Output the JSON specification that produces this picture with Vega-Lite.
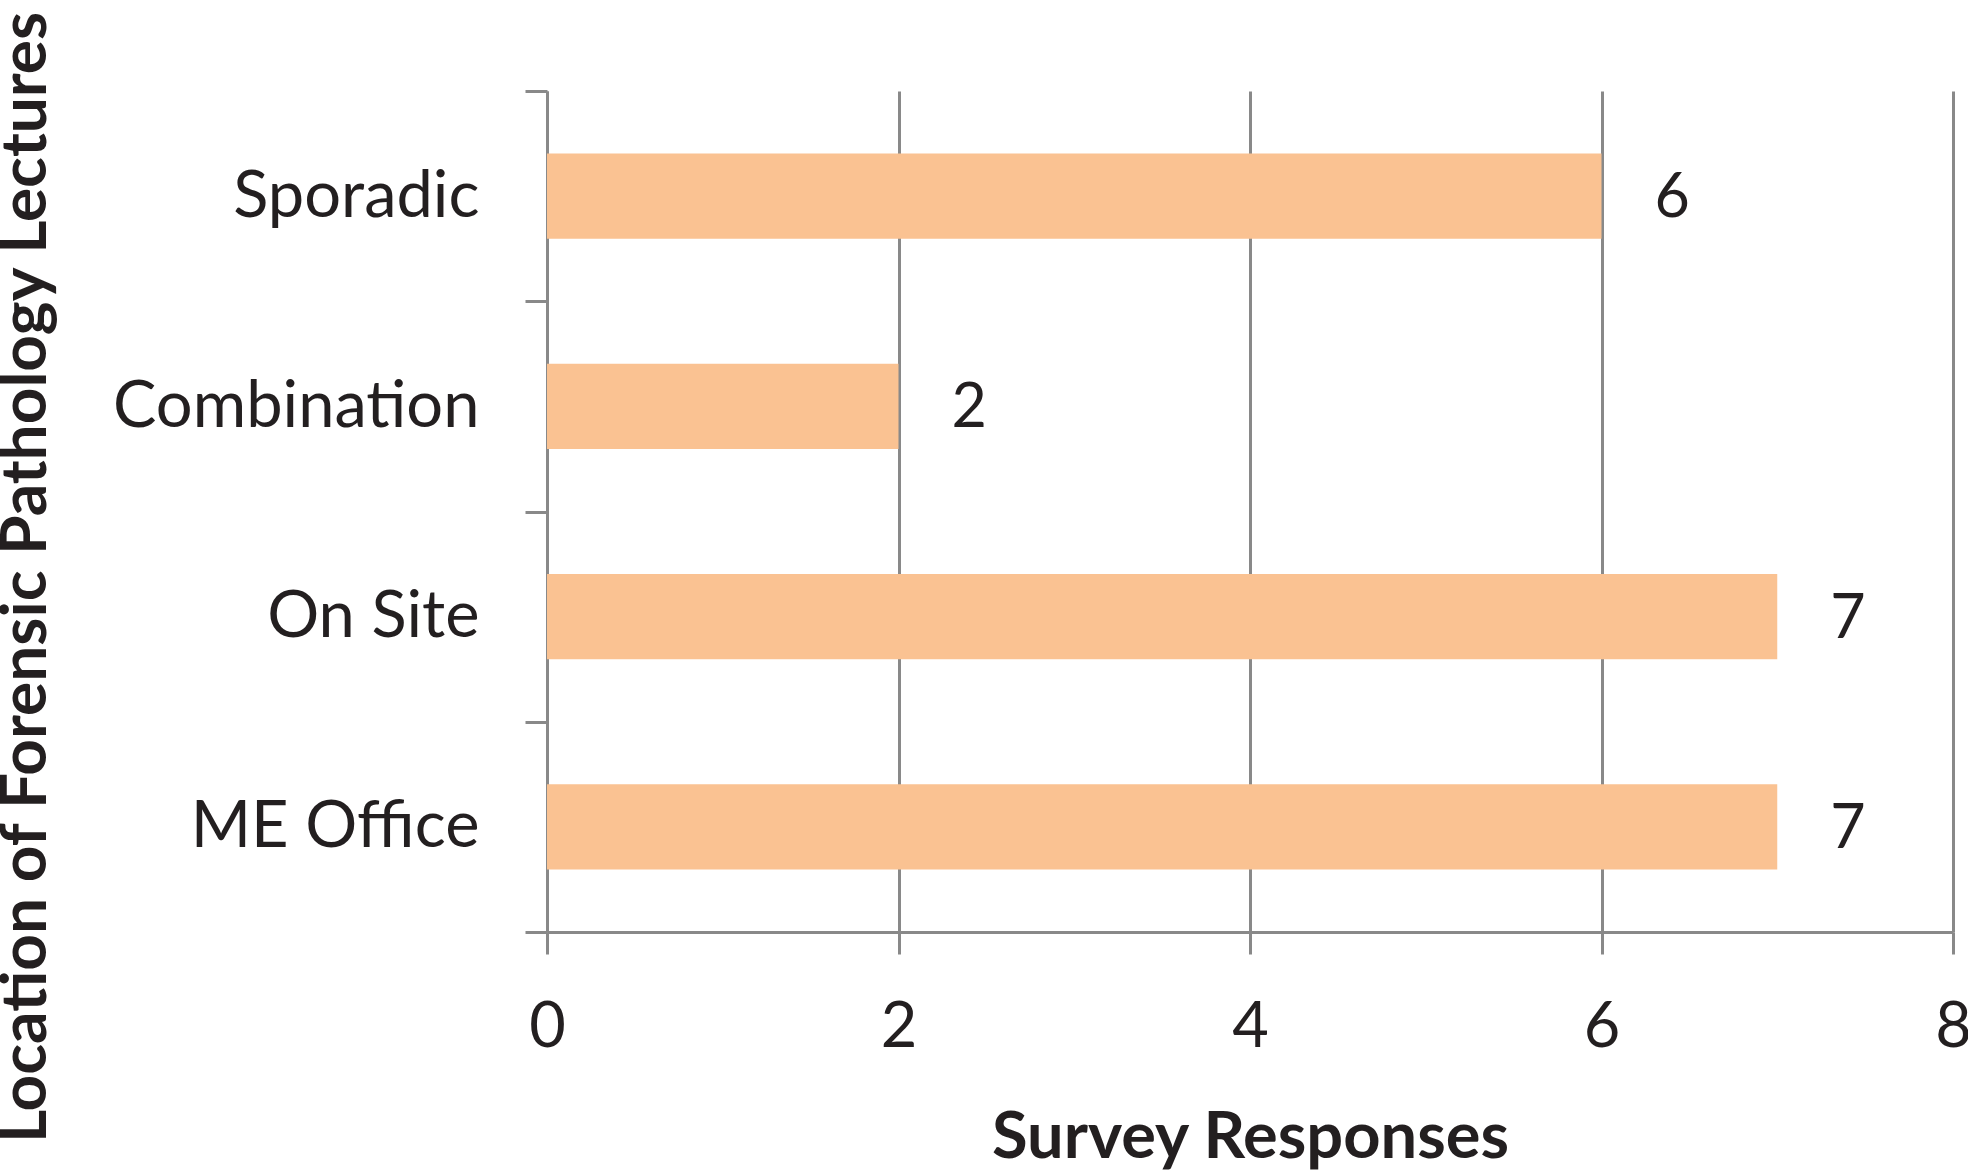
{
  "$schema": "https://vega.github.io/schema/vega-lite/v6.json",
  "width": 1406,
  "height": 841,
  "autosize": {"type": "none"},
  "padding": {"left": 547, "top": 91, "right": 15, "bottom": 239},
  "background": "white",
  "config": {"view": {"stroke": null}},
  "data": {
    "values": [
      {"location": "Sporadic", "responses": 6},
      {"location": "Combination", "responses": 2},
      {"location": "On Site", "responses": 7},
      {"location": "ME Office", "responses": 7}
    ]
  },
  "encoding": {
    "y": {
      "field": "location",
      "type": "nominal",
      "sort": ["Sporadic", "Combination", "On Site", "ME Office"],
      "scale": {"paddingInner": 0, "paddingOuter": 0},
      "axis": {
        "title": "Location of Forensic Pathology Lectures",
        "titleFont": "Lato",
        "titleFontWeight": "bold",
        "titleFontSize": 64,
        "titleColor": "#231F20",
        "titleAngle": 270,
        "titleX": -502,
        "titleY": 486,
        "titleAlign": "center",
        "titleBaseline": "alphabetic",
        "titleLimit": 0,
        "tickBand": "extent",
        "tickSize": 22,
        "tickWidth": 3,
        "tickColor": "#898989",
        "domainColor": "#898989",
        "domainWidth": 3,
        "labelFont": "Lato",
        "labelFontSize": 65,
        "labelColor": "#231F20",
        "labelPadding": 46,
        "labelLimit": 0,
        "grid": false
      }
    },
    "x": {
      "field": "responses",
      "type": "quantitative",
      "scale": {"domain": [0, 8], "nice": false},
      "axis": {
        "values": [0, 2, 4, 6, 8],
        "title": "Survey Responses",
        "titleFont": "Lato",
        "titleFontWeight": "bold",
        "titleFontSize": 65,
        "titleColor": "#231F20",
        "titleY": 225,
        "titleBaseline": "alphabetic",
        "tickSize": 22,
        "tickWidth": 3,
        "tickColor": "#898989",
        "domainColor": "#898989",
        "domainWidth": 3,
        "gridColor": "#898989",
        "gridWidth": 3,
        "gridOpacity": 1,
        "labelFont": "Lato",
        "labelFontSize": 63,
        "labelColor": "#231F20",
        "labelPadding": 42,
        "labelFlush": false,
        "labelOverlap": false
      }
    }
  },
  "layer": [
    {"mark": {"type": "bar", "color": "#FAC292", "height": {"band": 0.405}}},
    {
      "mark": {"type": "text", "align": "left", "baseline": "middle", "dx": 53, "dy": 3, "font": "Lato", "fontSize": 61, "color": "#231F20"},
      "encoding": {"text": {"field": "responses", "type": "quantitative"}}
    }
  ]
}
